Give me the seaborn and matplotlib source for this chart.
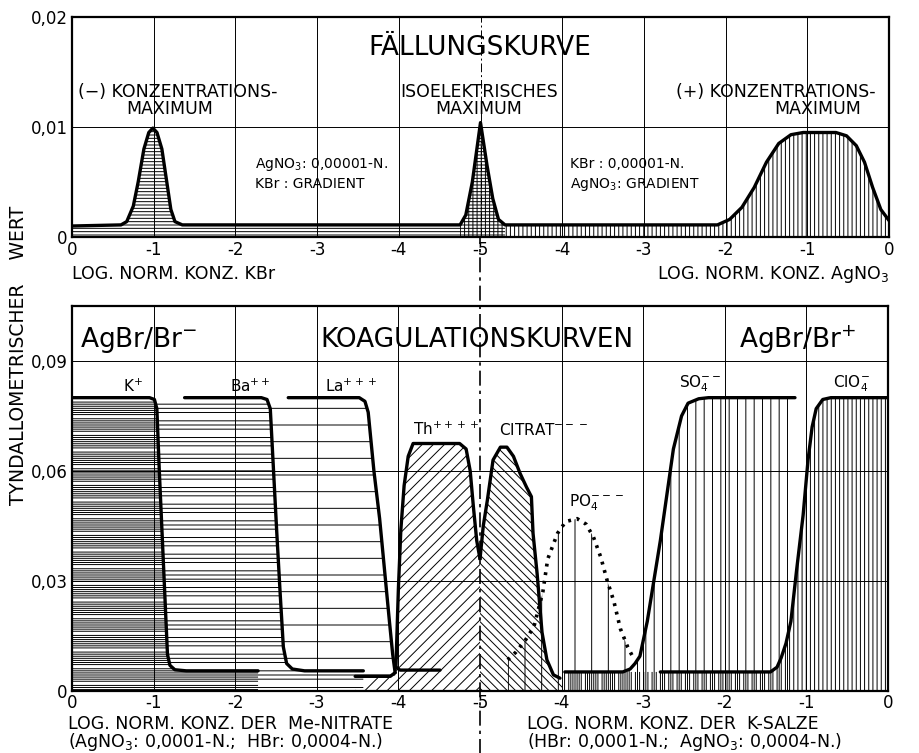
import matplotlib
matplotlib.use("Agg")
import matplotlib.pyplot as plt
import seaborn as sns

# ---------------- data ----------------
x_ticks = [0, 1, 2, 3, 4, 5, 6, 7, 8, 9, 10]
x_ticklabels = ["0", "-1", "-2", "-3", "-4", "-5", "-4", "-3", "-2", "-1", "0"]
top_yticks = [0, 0.01, 0.02]
top_yticklabels = ["0", "0,01", "0,02"]
bot_yticks = [0, 0.03, 0.06, 0.09]
bot_yticklabels = ["0", "0,03", "0,06", "0,09"]

# Fällungskurve (top panel)
fall_x = [0.0, 0.6, 0.67, 0.75, 0.81, 0.88, 0.94, 0.99, 1.04, 1.10, 1.16, 1.21, 1.26, 1.35,
          2.0, 3.0, 4.0, 4.75, 4.82, 4.90, 5.00, 5.08, 5.15, 5.22, 5.30,
          6.0, 7.0, 7.9, 8.05, 8.2, 8.35, 8.5, 8.65, 8.8, 8.95, 9.35, 9.48, 9.6, 9.7, 9.8, 9.9, 10.0]
fall_y = [0.0010, 0.0011, 0.0014, 0.0028, 0.0050, 0.0080, 0.0095, 0.0099, 0.0095, 0.0080, 0.0050,
          0.0025, 0.0014, 0.0011,
          0.0011, 0.0011, 0.0011, 0.0011, 0.0020, 0.0050, 0.0104, 0.0065, 0.0035, 0.0016, 0.0011,
          0.0011, 0.0011, 0.0011, 0.0016, 0.0027, 0.0045, 0.0068, 0.0085, 0.0093, 0.0095, 0.0095,
          0.0092, 0.0083, 0.0068, 0.0045, 0.0025, 0.0015]

# Koagulationskurven (bottom panel)
k_x = [0.0, 0.95, 1.01, 1.04, 1.07, 1.10, 1.14, 1.17, 1.20, 1.26, 1.40, 2.28]
k_y = [0.080, 0.080, 0.0795, 0.077, 0.060, 0.045, 0.025, 0.010, 0.0070, 0.0058, 0.0055, 0.0055]

ba_x = [1.38, 2.32, 2.39, 2.43, 2.47, 2.51, 2.55, 2.59, 2.63, 2.70, 2.85, 3.57]
ba_y = [0.080, 0.080, 0.0795, 0.077, 0.060, 0.043, 0.027, 0.012, 0.0075, 0.0060, 0.0055, 0.0055]

la_x = [2.65, 3.52, 3.59, 3.63, 3.70, 3.77, 3.83, 3.89, 3.93, 3.96]
la_y = [0.080, 0.080, 0.079, 0.076, 0.060, 0.047, 0.033, 0.019, 0.010, 0.005]
la_foot_x = [3.47, 3.90, 3.96]
la_foot_y = [0.0040, 0.0040, 0.0050]

th_x = [3.97, 3.98, 4.00, 4.03, 4.07, 4.12, 4.18, 4.75, 4.83, 4.88, 4.92, 4.96, 5.00]
th_y = [0.0065, 0.014, 0.028, 0.044, 0.056, 0.064, 0.0675, 0.0675, 0.066, 0.060, 0.050, 0.041, 0.036]
th_foot_x = [3.97, 4.02, 4.51]
th_foot_y = [0.0065, 0.0057, 0.0057]
th_fill_start = (3.45, 0.0)

cit_x = [5.00, 5.04, 5.09, 5.16, 5.25, 5.33, 5.41, 5.49, 5.57, 5.63, 5.65, 5.70, 5.76, 5.82, 5.90, 5.98]
cit_y = [0.036, 0.045, 0.052, 0.063, 0.0665, 0.0665, 0.064, 0.0594, 0.0556, 0.053, 0.043, 0.032,
         0.016, 0.0085, 0.0044, 0.0035]
cit_fill_end = (6.02, 0.0)

po4_x = [5.34, 5.44, 5.56, 5.66, 5.77, 5.83, 5.95, 6.05, 6.19, 6.30, 6.39, 6.48, 6.56, 6.64, 6.72, 6.81, 6.88]
po4_y = [0.0085, 0.0106, 0.014, 0.0175, 0.027, 0.036, 0.043, 0.0462, 0.047, 0.0455, 0.042, 0.0365,
         0.030, 0.0245, 0.017, 0.012, 0.009]

so4_x = [6.04, 6.75, 6.84, 6.90, 6.96, 7.05, 7.21, 7.37, 7.47, 7.55, 7.68, 7.80, 8.86]
so4_y = [0.0052, 0.0052, 0.0060, 0.0075, 0.0095, 0.019, 0.041, 0.066, 0.075, 0.0785, 0.0797, 0.080, 0.080]

clo4_x = [7.21, 8.56, 8.64, 8.69, 8.75, 8.81, 8.88, 8.96, 9.02, 9.07, 9.12, 9.20, 9.30, 10.0]
clo4_y = [0.0052, 0.0052, 0.0065, 0.009, 0.013, 0.019, 0.033, 0.048, 0.063, 0.072, 0.077, 0.0795, 0.080, 0.080]
clo4_fill_start = (6.0, 0.0052)

# ---------------- style ----------------
sns.set_style("white")
plt.rcParams["font.family"] = ["DejaVu Sans"]
plt.rcParams["mathtext.default"] = "regular"
plt.rcParams["hatch.linewidth"] = 0.7
plt.rcParams["hatch.color"] = "black"
plt.rcParams["text.color"] = "black"
plt.rcParams["axes.labelcolor"] = "black"
plt.rcParams["xtick.color"] = "black"
plt.rcParams["ytick.color"] = "black"

W, H = 919, 753
fig = plt.figure(figsize=(W / 100, H / 100), dpi=100)
ax_top = fig.add_axes([72 / W, 1 - 237 / H, 817 / W, 220 / H])
ax_bot = fig.add_axes([72 / W, 1 - 691 / H, 816 / W, 385 / H])

LW = 2.4
dashdot = (0, (9, 3, 2, 3))


def hatch_fill(ax, xs, ys, hatch, base=0.0):
    ax.fill_between(xs, base, ys, facecolor="none", edgecolor="black", linewidth=0,
                    hatch=hatch, zorder=1)


def curve(ax, xs, ys, ls="-", lw=LW):
    sns.lineplot(x=xs, y=ys, ax=ax, color="black", linewidth=lw, linestyle=ls,
                 sort=False, estimator=None, legend=False, zorder=4)


for ax in (ax_top, ax_bot):
    ax.set_xlim(0, 10)
    ax.set_xticks(x_ticks)
    ax.set_xticklabels(x_ticklabels)
    ax.tick_params(length=0, labelsize=12, pad=3, colors="black", labelcolor="black")
    ax.grid(True, color="black", linewidth=0.7)
    for s in ax.spines.values():
        s.set_linewidth(1.6)
        s.set_color("black")
    ax.set_xlabel("")
    ax.set_ylabel("")
ax_bot.tick_params(axis="x", pad=2)

# ---- top panel ----
ax_top.set_ylim(0, 0.02)
ax_top.set_yticks(top_yticks)
ax_top.set_yticklabels(top_yticklabels)
left = [(x, y) for x, y in zip(fall_x, fall_y) if x <= 5.3]
right = [(x, y) for x, y in zip(fall_x, fall_y) if x >= 4.75]
hatch_fill(ax_top, [p[0] for p in left], [p[1] for p in left], "-----")
hatch_fill(ax_top, [p[0] for p in right], [p[1] for p in right], "||||")
curve(ax_top, fall_x, fall_y)
ax_top.xaxis.get_gridlines()[5].set_linestyle(dashdot)

ax_top.text(4.99, 0.0172, "FÄLLUNGSKURVE", ha="center", va="center", fontsize=19, zorder=6)
ax_top.text(1.29, 0.0132, "(−) KONZENTRATIONS-", ha="center", va="center", fontsize=12.5)
ax_top.text(1.19, 0.01165, "MAXIMUM", ha="center", va="center", fontsize=12.5)
ax_top.text(4.98, 0.0132, "ISOELEKTRISCHES", ha="center", va="center", fontsize=12.5)
ax_top.text(4.98, 0.01165, "MAXIMUM", ha="center", va="center", fontsize=12.5)
ax_top.text(8.62, 0.0132, "(+) KONZENTRATIONS-", ha="center", va="center", fontsize=12.5)
ax_top.text(9.13, 0.01165, "MAXIMUM", ha="center", va="center", fontsize=12.5)
ax_top.text(2.24, 0.0066, r"AgNO$_3$: 0,00001-N.", ha="left", va="center", fontsize=10)
ax_top.text(2.24, 0.0048, "KBr : GRADIENT", ha="left", va="center", fontsize=10)
ax_top.text(6.10, 0.0066, "KBr : 0,00001-N.", ha="left", va="center", fontsize=10)
ax_top.text(6.10, 0.0048, r"AgNO$_3$: GRADIENT", ha="left", va="center", fontsize=10)
ax_top.text(0.0, -0.168, "LOG. NORM. KONZ. KBr", transform=ax_top.transAxes,
            ha="left", va="center", fontsize=12.5)
ax_top.text(1.0, -0.172, r"LOG. NORM. KONZ. AgNO$_3$", transform=ax_top.transAxes,
            ha="right", va="center", fontsize=12.5)

# ---- bottom panel ----
ax_bot.set_ylim(0, 0.105)
ax_bot.set_yticks(bot_yticks)
ax_bot.set_yticklabels(bot_yticklabels)

hatch_fill(ax_bot, k_x, k_y, "----")
hatch_fill(ax_bot, [0.0] + ba_x, [0.080] + ba_y, "--")
hatch_fill(ax_bot, [0.0] + la_x, [0.080] + la_y, "-")
hatch_fill(ax_bot, [th_fill_start[0]] + th_x, [th_fill_start[1]] + th_y, "///")
hatch_fill(ax_bot, cit_x + [cit_fill_end[0]], cit_y + [cit_fill_end[1]], "\\\\\\\\")
hatch_fill(ax_bot, po4_x, po4_y, "|")
hatch_fill(ax_bot, so4_x, so4_y, "||")
hatch_fill(ax_bot, [clo4_fill_start[0]] + clo4_x, [clo4_fill_start[1]] + clo4_y, "||||")

curve(ax_bot, k_x, k_y)
curve(ax_bot, ba_x, ba_y)
curve(ax_bot, la_x, la_y)
curve(ax_bot, la_foot_x, la_foot_y)
curve(ax_bot, th_x, th_y)
curve(ax_bot, th_foot_x, th_foot_y)
curve(ax_bot, cit_x, cit_y)
curve(ax_bot, po4_x, po4_y, ls=(0, (0.8, 1.6)), lw=2.6)
curve(ax_bot, so4_x, so4_y)
curve(ax_bot, clo4_x, clo4_y)

ax_bot.xaxis.get_gridlines()[5].set_visible(False)
ax_bot.axvline(5, ymin=-0.165, ymax=1.18, clip_on=False, color="black", lw=1.2,
               linestyle=dashdot, zorder=5)

ax_bot.text(0.10, 0.0957, r"AgBr/Br$^{-}$", ha="left", va="center", fontsize=19, zorder=6)
ax_bot.text(4.96, 0.0957, "KOAGULATIONSKURVEN", ha="center", va="center", fontsize=19, zorder=6)
ax_bot.text(8.17, 0.0957, r"AgBr/Br$^{+}$", ha="left", va="center", fontsize=19, zorder=6)

ion_fs = 11
ax_bot.text(0.63, 0.0808, r"K$^{+}$", ha="left", va="bottom", fontsize=ion_fs)
ax_bot.text(1.94, 0.0808, r"Ba$^{++}$", ha="left", va="bottom", fontsize=ion_fs)
ax_bot.text(3.10, 0.0808, r"La$^{+++}$", ha="left", va="bottom", fontsize=ion_fs)
ax_bot.text(4.18, 0.0690, r"Th$^{++++}$", ha="left", va="bottom", fontsize=ion_fs)
ax_bot.text(5.23, 0.0690, r"CITRAT$^{---}$", ha="left", va="bottom", fontsize=ion_fs)
ax_bot.text(6.09, 0.0485, r"PO$_4^{---}$", ha="left", va="bottom", fontsize=ion_fs)
ax_bot.text(7.44, 0.0810, r"SO$_4^{--}$", ha="left", va="bottom", fontsize=ion_fs)
ax_bot.text(9.33, 0.0810, r"ClO$_4^{-}$", ha="left", va="bottom", fontsize=ion_fs)

lab_fs = 12.5
ax_bot.text(-0.005, -0.085, "LOG. NORM. KONZ. DER  Me-NITRATE", transform=ax_bot.transAxes,
            ha="left", va="center", fontsize=lab_fs)
ax_bot.text(-0.005, -0.133, r"(AgNO$_3$: 0,0001-N.;  HBr: 0,0004-N.)", transform=ax_bot.transAxes,
            ha="left", va="center", fontsize=lab_fs)
ax_bot.text(0.558, -0.085, "LOG. NORM. KONZ. DER  K-SALZE", transform=ax_bot.transAxes,
            ha="left", va="center", fontsize=lab_fs)
ax_bot.text(0.558, -0.133, r"(HBr: 0,0001-N.;  AgNO$_3$: 0,0004-N.)", transform=ax_bot.transAxes,
            ha="left", va="center", fontsize=lab_fs)

fig.text(19 / W, 1 - 355 / H, "TYNDALLOMETRISCHER    WERT", rotation=90,
         ha="center", va="center", fontsize=13.5)

fig.savefig("out.png", dpi=100, facecolor="white")
